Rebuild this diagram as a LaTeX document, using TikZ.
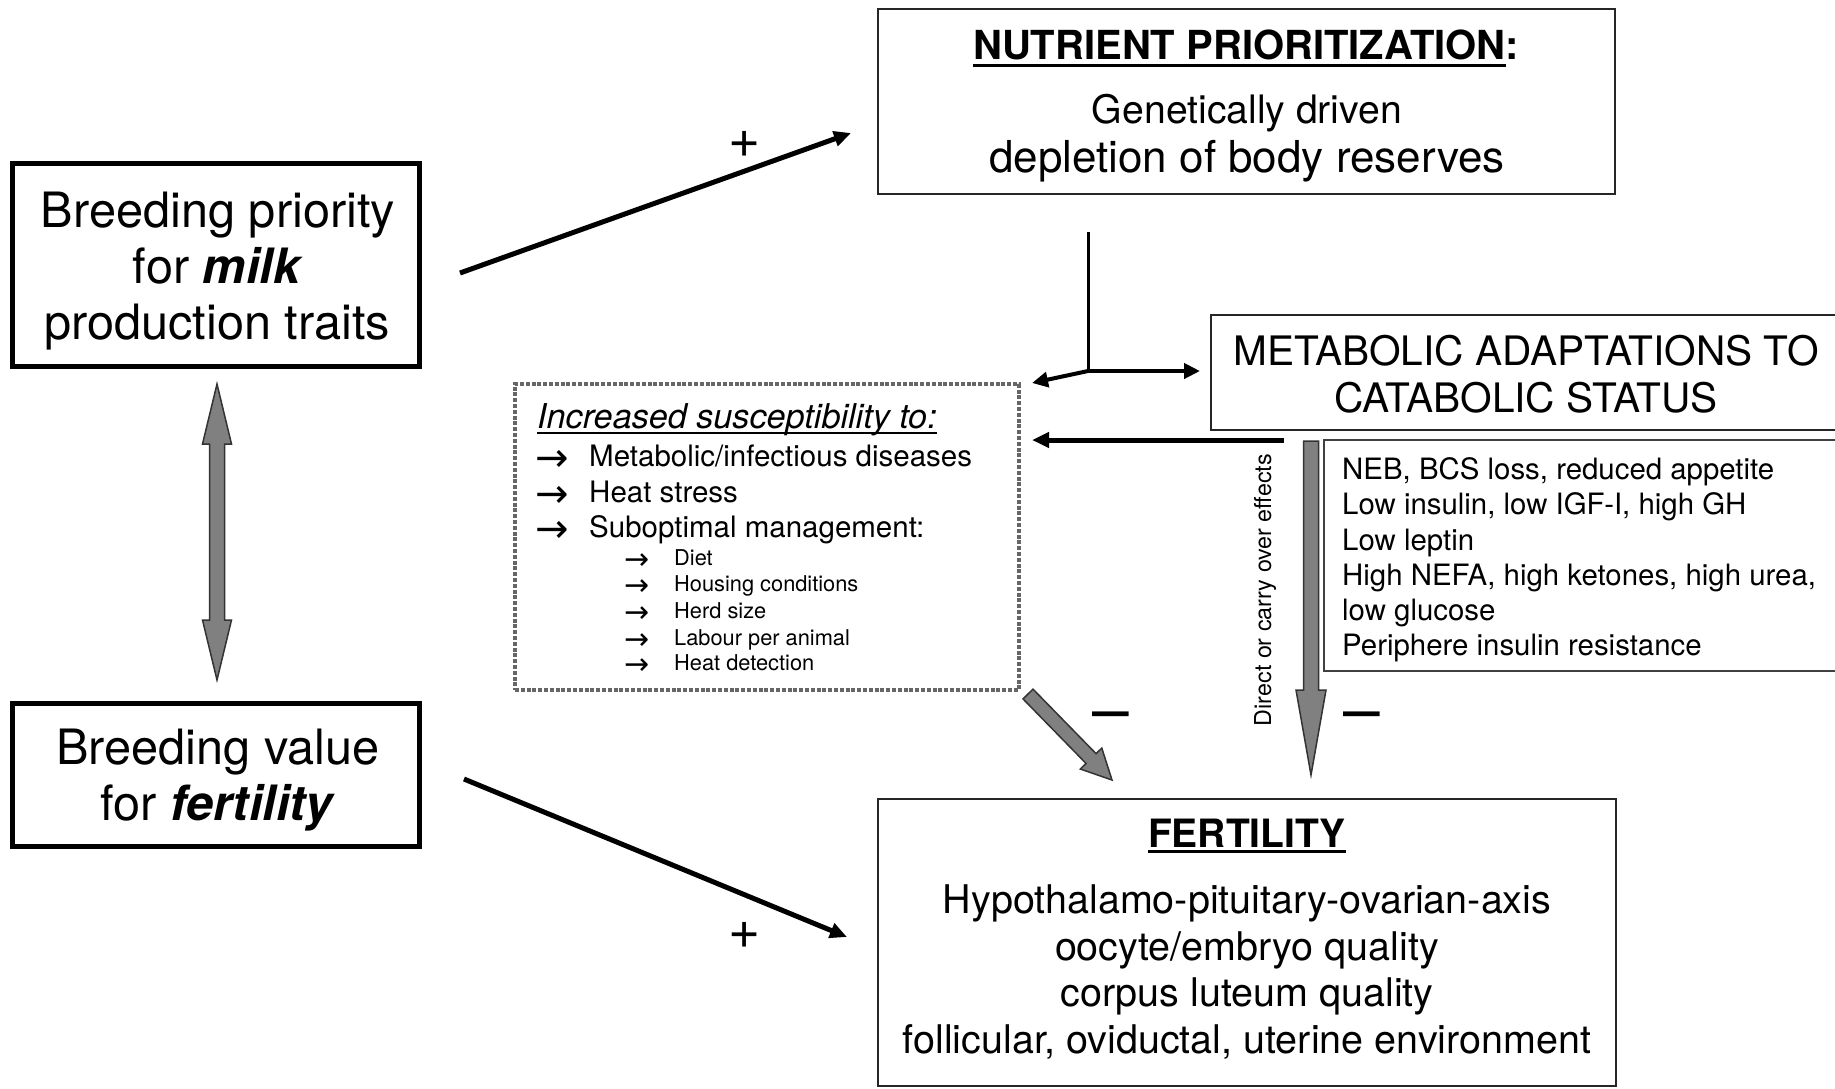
\documentclass[tikz,border=0pt]{standalone}
\usepackage{fontspec}
\setmainfont{TeX Gyre Heros}
\newfontfamily\dejavu{DejaVu Sans}
\usetikzlibrary{arrows.meta,calc}
\newcommand\myul[3]{\setbox0=\hbox{#3}\leavevmode\rlap{\rule[-#1]{\wd0}{#2}}\box0}
\newcommand\fs[1]{\fontsize{#1}{#1}\selectfont}
\newcommand\fatarr[5]{%
  \path ($(#2)!#5!(#1)$) coordinate (fh);
  \draw[fatstyle] ($(#1)!#3!90:(#2)$) -- ($(fh)!#3!90:(#2)$) -- ($(fh)!#4!90:(#2)$) -- (#2)
     -- ($(fh)!#4!-90:(#2)$) -- ($(fh)!#3!-90:(#2)$) -- ($(#1)!#3!-90:(#2)$) -- cycle;}
\newcommand\fatdarr[5]{%
  \path ($(#1)!#5!(#2)$) coordinate (fha) ($(#2)!#5!(#1)$) coordinate (fhb);
  \draw[fatstyle] (#1) -- ($(fha)!#4!90:(#2)$) -- ($(fha)!#3!90:(#2)$) -- ($(fhb)!#3!90:(#2)$)
     -- ($(fhb)!#4!90:(#2)$) -- (#2) -- ($(fhb)!#4!-90:(#2)$) -- ($(fhb)!#3!-90:(#2)$)
     -- ($(fha)!#3!-90:(#2)$) -- ($(fha)!#4!-90:(#2)$) -- cycle;}
\tikzset{
  boxbase/.style={inner sep=0pt, outer sep=0pt},
  thickbox/.style={boxbase, draw, line width=5pt},
  thinbox/.style={boxbase, draw=black!85, line width=2pt},
  listbox/.style={boxbase, draw=black!75, line width=1.8pt},
  dotbox/.style={boxbase, draw=black!60, line width=4.5pt, dash pattern=on 4pt off 1.8pt},
  txt/.style={anchor=base, inner sep=0pt},
  ltxt/.style={anchor=base west, inner sep=0pt},
  bigarr/.style={anchor=base west, inner sep=0pt, font=\fs{40}\dejavu},
  smallarr/.style={anchor=base west, inner sep=0pt, font=\fs{30}\dejavu},
  blackarrow/.style={line width=5pt, -{Triangle[length=17pt,width=15pt]}},
  blackarrowb/.style={line width=4pt, -{Triangle[length=16pt,width=15pt]}},
  fatstyle/.style={fill=black!50, draw=black!80, line width=1.5pt, line join=miter},
}
\begin{document}
\begin{tikzpicture}[x=1pt,y=-1pt]
\useasboundingbox (0,0) rectangle (1835,1088);
% boxes
\node[thickbox, minimum width=407pt, minimum height=203pt] (A) at (216,265) {};
\node[thickbox, minimum width=407pt, minimum height=143pt] (B) at (216,775) {};
\node[thinbox, minimum width=737pt, minimum height=185pt] (N) at (1246.5,101.5) {};
\node[thinbox, minimum width=630pt, minimum height=115pt] (M) at (1526,372.5) {};
\node[listbox, minimum width=526pt, minimum height=231pt] (L) at (1587,555.5) {};
\node[dotbox, minimum width=504pt, minimum height=306pt] (S) at (767,537) {};
\node[thinbox, minimum width=738pt, minimum height=287pt] (F) at (1247,942.5) {};
% box A text
\node[txt, font=\fs{48.7}] (a1) at (218,227) {Breeding priority};
\node[txt, font=\fs{48.7}] (a2) at (218,283) {for \textbf{\textit{milk}}};
\node[txt, font=\fs{48.7}] (a3) at (217,339) {production traits};
% box B text
\node[txt, font=\fs{48.7}] (b1) at (218,764) {Breeding value};
\node[txt, font=\fs{48.7}] (b2) at (218,820) {for \textbf{\textit{fertility}}};
% box N text
\node[txt, font=\fs{40}\bfseries] (n1) at (1246,59) {\myul{8pt}{3pt}{NUTRIENT PRIORITIZATION}:};
\node[txt, font=\fs{39.2}] (n2) at (1247,123) {Genetically driven};
\node[txt, font=\fs{44}] (n3) at (1247,172) {depletion of body reserves};
% box M text
\node[txt, font=\fs{40.6}] (m1) at (1526,365) {METABOLIC ADAPTATIONS TO};
\node[txt, font=\fs{40.6}] (m2) at (1526,412) {CATABOLIC STATUS};
% box L text
\node[ltxt, font=\fs{29.4}] (l1) at (1342,479) {NEB, BCS loss, reduced appetite};
\node[ltxt, font=\fs{29.4}] (l2) at (1342,514) {Low insulin, low IGF-I, high GH};
\node[ltxt, font=\fs{29.4}] (l3) at (1342,550) {Low leptin};
\node[ltxt, font=\fs{29.4}] (l4) at (1342,585) {High NEFA, high ketones, high urea,};
\node[ltxt, font=\fs{29.4}] (l5) at (1342,620) {low glucose};
\node[ltxt, font=\fs{29.4}] (l6) at (1342,655) {Periphere insulin resistance};
% box S text
\node[ltxt, font=\fs{34.2}\itshape] (s0) at (537,428) {\myul{6pt}{2pt}{Increased susceptibility to:}};
\node[bigarr] (sa1) at (535,471) {\smash{→}};
\node[ltxt, font=\fs{29.5}] (s1) at (589,466) {Metabolic/infectious diseases};
\node[bigarr] (sa2) at (535,507) {\smash{→}};
\node[ltxt, font=\fs{29.5}] (s2) at (589,502) {Heat stress};
\node[bigarr] (sa3) at (535,542) {\smash{→}};
\node[ltxt, font=\fs{29.5}] (s3) at (589,537) {Suboptimal management:};
\node[smallarr] (ta1) at (624,569) {\smash{→}};
\node[ltxt, font=\fs{21.8}] (t1) at (674,565) {Diet};
\node[smallarr] (ta2) at (624,595) {\smash{→}};
\node[ltxt, font=\fs{21.8}] (t2) at (674,591) {Housing conditions};
\node[smallarr] (ta3) at (624,622) {\smash{→}};
\node[ltxt, font=\fs{21.8}] (t3) at (674,618) {Herd size};
\node[smallarr] (ta4) at (624,649) {\smash{→}};
\node[ltxt, font=\fs{21.8}] (t4) at (674,645) {Labour per animal};
\node[smallarr] (ta5) at (624,674) {\smash{→}};
\node[ltxt, font=\fs{21.8}] (t5) at (674,670) {Heat detection};
% box F text
\node[txt, font=\fs{39}\bfseries] (f1) at (1247,847) {\myul{6pt}{3pt}{FERTILITY}};
\node[txt, font=\fs{39.5}] (f2) at (1247,913) {Hypothalamo-pituitary-ovarian-axis};
\node[txt, font=\fs{39.5}] (f3) at (1247,960) {oocyte/embryo quality};
\node[txt, font=\fs{39.5}] (f4) at (1247,1006) {corpus luteum quality};
\node[txt, font=\fs{39.5}] (f5) at (1247,1053) {follicular, oviductal, uterine environment};
% signs
\node[txt, font=\fs{55}] (p1) at (745,157) {+};
\node[txt, font=\fs{55}] (p2) at (745,948) {+};
\node[txt, font=\fs{66}] (mn1) at (1110.5,732) {–};
\node[txt, font=\fs{66}] (mn2) at (1361.5,732) {–};
\node[font=\fs{23.3}, rotate=90, inner sep=0pt] (dc) at (1265,590) {Direct or carry over effects};
% connectors
\coordinate (aN1) at (460,273); \coordinate (aN2) at (851,133);
\draw[blackarrow] (aN1) -- (aN2);
\coordinate (bF1) at (464,779); \coordinate (bF2) at (847,937);
\draw[blackarrow] (bF1) -- (bF2);
\coordinate (nTop) at (1088,232); \coordinate (nJ) at (1088,371);
\coordinate (nL) at (1032,383); \coordinate (nR) at (1200,371);
\draw[line width=3pt] (nTop) -- (nJ);
\draw[blackarrowb] (nJ) -- (nL);
\draw[blackarrowb] (nJ) -- (nR);
\coordinate (mS1) at (1284,440); \coordinate (mS2) at (1032,440);
\draw[blackarrow] (mS1) -- (mS2);
\coordinate (dA1) at (217,384); \coordinate (dA2) at (217,680);
\fatdarr{dA1}{dA2}{7.5pt}{14.5pt}{60pt}
\coordinate (sF1) at (1028,694); \coordinate (sF2) at (1112,780);
\fatarr{sF1}{sF2}{7pt}{15pt}{30pt}
\coordinate (dF1) at (1311,441); \coordinate (dF2) at (1311,775);
\fatarr{dF1}{dF2}{7.5pt}{15pt}{85pt}
\end{tikzpicture}
\end{document}
